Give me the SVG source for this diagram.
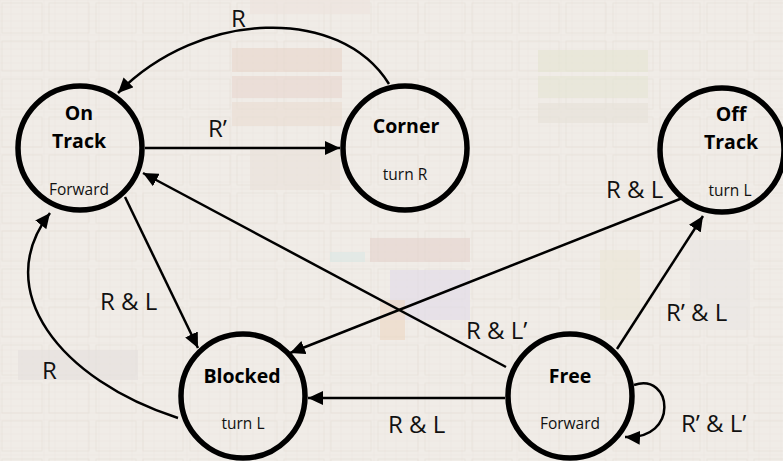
<svg xmlns="http://www.w3.org/2000/svg" width="783" height="461" viewBox="0 0 783 461">
  <style>
    .state { fill: none; stroke: #000; stroke-width: 5.5; }
    .name { font-family: "Open Sans", "Liberation Sans", sans-serif; font-weight: bold; font-size: 19.5px; fill: #000; text-anchor: middle; }
    .act { font-family: "Open Sans", "Liberation Sans", sans-serif; font-size: 15.5px; fill: #111; text-anchor: middle; }
    .cond { font-family: "Open Sans", "Liberation Sans", sans-serif; font-size: 24px; fill: #111; }
    .edge { fill: none; stroke: #000; stroke-width: 2.5; marker-end: url(#head); }
    .blk { stroke: none; opacity: 0.55; }
  </style>
  <defs>
    <marker id="head" markerUnits="userSpaceOnUse" markerWidth="16" markerHeight="14" refX="15" refY="7" orient="auto">
      <path d="M0,0 L15,7 L0,14 Z" fill="#000"/>
    </marker>
    <pattern id="grid" width="11" height="7" patternUnits="userSpaceOnUse">
      <rect width="11" height="7" fill="none" stroke="#ddd6cd" stroke-width="0.5"/>
    </pattern>
    <pattern id="coarse" width="47" height="38" patternUnits="userSpaceOnUse">
      <rect x="2" y="3" width="40" height="30" fill="none" stroke="#e2dbd2" stroke-width="1"/>
    </pattern>
  </defs>

  <!-- faded die-photo backdrop -->
  <g id="backdrop">
    <rect width="783" height="461" fill="#f0ece7"/>
    <rect width="783" height="461" fill="url(#grid)" opacity="0.3"/>
    <rect width="783" height="461" fill="url(#coarse)" opacity="0.5"/>
    <rect class="blk" x="232" y="48" width="110" height="24" fill="#e8d3c9"/>
    <rect class="blk" x="232" y="76" width="110" height="22" fill="#e8d4cc"/>
    <rect class="blk" x="232" y="102" width="110" height="24" fill="#eadad0"/>
    <rect class="blk" x="538" y="50" width="110" height="22" fill="#e4e4d0"/>
    <rect class="blk" x="538" y="76" width="110" height="22" fill="#e3e3d2"/>
    <rect class="blk" x="538" y="103" width="110" height="20" fill="#e6e0d7"/>
    <rect class="blk" x="370" y="238" width="100" height="24" fill="#e4cfcb"/>
    <rect class="blk" x="390" y="270" width="80" height="50" fill="#e0d8ea"/>
    <rect class="blk" x="380" y="300" width="25" height="40" fill="#edd6c0"/>
    <rect class="blk" x="330" y="252" width="35" height="10" fill="#d8e7e6"/>
    <rect class="blk" x="600" y="250" width="40" height="70" fill="#ebe6d6"/>
    <rect class="blk" x="18" y="350" width="120" height="30" fill="#e3dfdc"/>
    <rect class="blk" x="250" y="0" width="120" height="14" fill="#ece1dc"/>
    <rect class="blk" x="250" y="150" width="90" height="40" fill="#e9e0d9"/>
    <rect class="blk" x="690" y="240" width="60" height="90" fill="#eae5e3"/>
  </g>

  <g id="edges">
    <!-- Corner to On Track, R -->
    <path class="edge" d="M389,84 C340,5 200,10 118,93"/>
    <!-- On Track to Corner, R' -->
    <path class="edge" d="M145,148 L340,148"/>
    <!-- Free to On Track, R & L' -->
    <path class="edge" d="M506,367 L143,173"/>
    <!-- On Track to Blocked, R & L -->
    <path class="edge" d="M125,197 L198,348"/>
    <!-- Off Track to Blocked, R & L -->
    <path class="edge" d="M685,197 L290,353"/>
    <!-- Free to Off Track, R' & L -->
    <path class="edge" d="M617,349 L703,216"/>
    <!-- Free to Blocked, R & L -->
    <path class="edge" d="M505,398 L308,398"/>
    <!-- Blocked to On Track, R -->
    <path class="edge" d="M178,418 C60,380 -10,290 50,213"/>
    <!-- Free self loop, R' & L' -->
    <path class="edge" d="M634,385 C672,372 680,440 625,437"/>
  </g>

  <g id="edge-labels">
    <text class="cond" x="231" y="27">R</text>
    <text class="cond" x="208" y="137">R’</text>
    <text class="cond" x="606" y="198">R &amp; L</text>
    <text class="cond" x="100" y="310">R &amp; L</text>
    <text class="cond" x="42" y="379">R</text>
    <text class="cond" x="466" y="339">R &amp; L’</text>
    <text class="cond" x="666" y="321">R’ &amp; L</text>
    <text class="cond" x="388" y="433">R &amp; L</text>
    <text class="cond" x="681" y="432">R’ &amp; L’</text>
  </g>

  <g id="on-track">
    <circle class="state" cx="80" cy="148" r="62"/>
    <text class="name" x="79" y="120">On</text>
    <text class="name" x="79" y="148">Track</text>
    <text class="act" x="79" y="195">Forward</text>
  </g>

  <g id="corner">
    <circle class="state" cx="405" cy="148" r="62"/>
    <text class="name" x="406" y="133">Corner</text>
    <text class="act" x="405" y="180">turn R</text>
  </g>

  <g id="off-track">
    <circle class="state" cx="722" cy="150" r="62"/>
    <text class="name" x="731" y="121">Off</text>
    <text class="name" x="731" y="149">Track</text>
    <text class="act" x="730" y="196">turn L</text>
  </g>

  <g id="blocked">
    <circle class="state" cx="243" cy="396" r="62"/>
    <text class="name" x="242" y="383">Blocked</text>
    <text class="act" x="243" y="429">turn L</text>
  </g>

  <g id="free">
    <circle class="state" cx="570" cy="396" r="62"/>
    <text class="name" x="570" y="383">Free</text>
    <text class="act" x="570" y="429">Forward</text>
  </g>
</svg>
